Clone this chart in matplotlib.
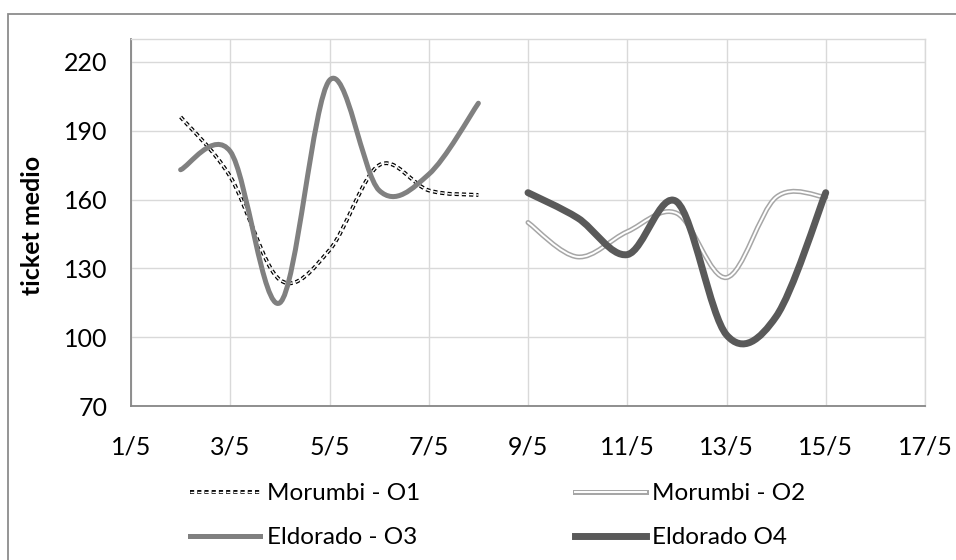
import matplotlib
matplotlib.use("Agg")
import matplotlib.pyplot as plt
import matplotlib.patheffects as pe
from matplotlib.path import Path
from matplotlib.patches import PathPatch, Rectangle
from matplotlib.lines import Line2D

# days of May
days_a = [2, 3, 4, 5, 6, 7, 8]
days_b = [9, 10, 11, 12, 13, 14, 15]
morumbi_o1 = [196, 170, 125, 138, 175, 164, 162]
eldorado_o3 = [173, 181, 115, 212, 164, 171, 202]
morumbi_o2 = [150, 135, 146, 154, 126, 161, 161]
eldorado_o4 = [163, 152, 136, 159, 101, 109, 163]

tick_days = [1, 3, 5, 7, 9, 11, 13, 15, 17]
tick_labels = ['1/5', '3/5', '5/5', '7/5', '9/5', '11/5', '13/5', '15/5', '17/5']
y_ticks = [70, 100, 130, 160, 190, 220]

FONT = 'Lato'
FS = 18


def smooth_path(xs, ys):
    # Excel style smoothed line: cubic bezier segments through every point
    pts = list(zip(xs, ys))
    n = len(pts)
    verts = [pts[0]]
    codes = [Path.MOVETO]
    for i in range(n - 1):
        p0 = pts[max(i - 1, 0)]
        p1 = pts[i]
        p2 = pts[i + 1]
        p3 = pts[min(i + 2, n - 1)]
        c1 = (p1[0] + (p2[0] - p0[0]) / 6, p1[1] + (p2[1] - p0[1]) / 6)
        c2 = (p2[0] - (p3[0] - p1[0]) / 6, p2[1] - (p3[1] - p1[1]) / 6)
        verts += [c1, c2, p2]
        codes += [Path.CURVE4] * 3
    return Path(verts, codes)


plt.rcParams['font.family'] = [FONT, 'DejaVu Sans']

fig = plt.figure(figsize=(9.56, 5.6), dpi=100)
ax = fig.add_axes([131 / 956, 1 - 406 / 560, (925 - 131) / 956, (406 - 39) / 560])

# outer chart border (cropped on the right and bottom)
fig.patches.append(Rectangle((8 / 956, -0.1), 1.2, 0.975 + 0.1, transform=fig.transFigure,
                             fill=False, edgecolor='#8c8c8c', linewidth=1.3))

dash_o1 = (0, (3.0, 2.2))
fx_o1 = [pe.Stroke(linewidth=2.8, foreground='black'), pe.Normal()]
fx_o2 = [pe.Stroke(linewidth=3.6, foreground='#a6a6a6'), pe.Normal()]

ax.add_patch(PathPatch(smooth_path(days_a, morumbi_o1), fill=False, edgecolor='white',
                       linewidth=1.0, linestyle=dash_o1, capstyle='butt',
                       path_effects=fx_o1, zorder=3))
ax.add_patch(PathPatch(smooth_path(days_b, morumbi_o2), fill=False, edgecolor='white',
                       linewidth=1.4, capstyle='round', joinstyle='round',
                       path_effects=fx_o2, zorder=3))
ax.add_patch(PathPatch(smooth_path(days_a, eldorado_o3), fill=False, edgecolor='#808080',
                       linewidth=3.6, capstyle='round', joinstyle='round', zorder=4))
ax.add_patch(PathPatch(smooth_path(days_b, eldorado_o4), fill=False, edgecolor='#595959',
                       linewidth=5.0, capstyle='round', joinstyle='round', zorder=5))

ax.set_xlim(1, 17)
ax.set_ylim(70, 230)
ax.set_xticks(tick_days)
ax.set_xticklabels(tick_labels)
ax.set_yticks(y_ticks)
ax.tick_params(axis='both', length=0, labelsize=FS, colors='black')
ax.tick_params(axis='y', pad=17)
ax.tick_params(axis='x', pad=21)
ax.grid(True, color='#d9d9d9', linewidth=1.0)
ax.set_axisbelow(True)
for side in ['left', 'bottom']:
    ax.spines[side].set_color('#868686')
    ax.spines[side].set_linewidth(1.3)
for side in ['top', 'right']:
    ax.spines[side].set_color('#d9d9d9')
    ax.spines[side].set_linewidth(1.0)

fig.text(33 / 956, 1 - 225 / 560, 'ticket medio', rotation=90, fontsize=FS,
         fontweight='bold', ha='center', va='center')

handles = [
    Line2D([], [], color='white', linewidth=1.0, linestyle=dash_o1, path_effects=fx_o1),
    Line2D([], [], color='#808080', linewidth=3.6),
    Line2D([], [], color='white', linewidth=1.4, path_effects=fx_o2),
    Line2D([], [], color='#595959', linewidth=5.0),
]
labels = ['Morumbi - O1', 'Eldorado - O3', 'Morumbi - O2', 'Eldorado O4']
fig.legend(handles, labels, ncol=2, loc='upper left', bbox_to_anchor=(190 / 956, 1 - 483 / 560),
           frameon=False, fontsize=17.5, handlelength=2.9, handletextpad=0.25,
           columnspacing=6.4, labelspacing=0.95, borderpad=0, borderaxespad=0)

fig.savefig('out.png', dpi=100)
